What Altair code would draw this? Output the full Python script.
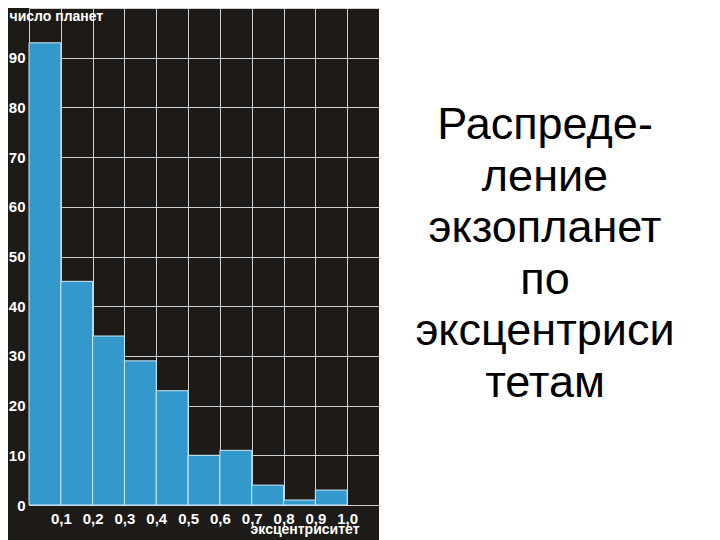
import altair as alt
import pandas as pd

# ---- data ----
bin_start = [0.0, 0.1, 0.2, 0.3, 0.4, 0.5, 0.6, 0.7, 0.8, 0.9]
bin_end = [0.1, 0.2, 0.3, 0.4, 0.5, 0.6, 0.7, 0.8, 0.9, 1.0]
planet_counts = [93, 45, 34, 29, 23, 10, 11, 4, 1, 3]
x_ticks = [0.0, 0.1, 0.2, 0.3, 0.4, 0.5, 0.6, 0.7, 0.8, 0.9, 1.0]
y_ticks = [0, 10, 20, 30, 40, 50, 60, 70, 80, 90, 100]
title_lines = ["Распреде-", "ление", "экзопланет", "по", "эксцентриси", "тетам"]

BG = "#1e1a18"
BLUE = "#3399cc"
GRID = "#cfcfcf"
FONT = "Liberation Sans"

bars_df = pd.DataFrame({"start": bin_start, "end": bin_end, "count": planet_counts})
text_df = pd.DataFrame({"line": title_lines, "col": ["c"] * len(title_lines)})

bars = (
    alt.Chart(bars_df)
    .mark_bar(color=BLUE, stroke="#cde8f6", strokeWidth=1)
    .encode(
        x=alt.X(
            "start:Q",
            scale=alt.Scale(domain=[0, 1.1], nice=False, zero=False),
            axis=alt.Axis(
                values=x_ticks,
                labelExpr="datum.value == 0 ? '' : replace(format(datum.value, '.1f'), '.', ',')",
                labelFont=FONT,
                labelFontSize=15,
                labelFontWeight="bold",
                labelColor="white",
                labelPadding=6,
                labelOverlap=False,
                labelFlush=False,
                ticks=False,
                domain=False,
                grid=True,
                gridColor=GRID,
                gridWidth=1,
                gridOpacity=1,
                title="эксцентриситет",
                titleFont=FONT,
                titleFontSize=14,
                titleFontWeight="bold",
                titleColor="white",
                titleAlign="right",
                titleBaseline="alphabetic",
                titleX=330,
                titleY=28,
            ),
        ),
        x2="end:Q",
        y=alt.Y(
            "count:Q",
            scale=alt.Scale(domain=[0, 100], nice=False),
            axis=alt.Axis(
                values=y_ticks,
                labelExpr="datum.value == 100 ? '' : datum.label",
                labelFont=FONT,
                labelFontSize={"condition": {"test": "datum.value == 100", "value": 0}, "value": 15},
                labelFontWeight="bold",
                labelColor="white",
                labelPadding=4,
                labelOverlap=False,
                labelFlush=False,
                ticks=False,
                domain=False,
                grid=True,
                gridColor=GRID,
                gridWidth=1,
                gridOpacity=1,
                title="число планет",
                titleFont=FONT,
                titleFontSize=14,
                titleFontWeight="bold",
                titleColor="white",
                titleAngle=0,
                titleAlign="left",
                titleBaseline="alphabetic",
                titleX=-20,
                titleY=12,
            ),
        ),
        y2=alt.datum(0),
    )
    .properties(width=350, height=497, view=alt.ViewBackground(fill=BG, strokeWidth=0))
)

text = (
    alt.Chart(text_df)
    .mark_text(font=FONT, fontSize=45, color="black", align="center", baseline="middle")
    .encode(
        x=alt.X("col:N", axis=None, scale=alt.Scale(type="point", padding=0.5)),
        y=alt.Y(
            "line:N",
            axis=None,
            sort=title_lines,
            scale=alt.Scale(type="point", range=[117, 375], padding=0),
        ),
        text="line:N",
    )
    .properties(width=332, height=532, view=alt.ViewBackground(fill="white", strokeWidth=0))
)

chart = (
    alt.hconcat(bars, text, spacing=0)
    .properties(background=BG, padding=0)
)

chart.save("out.html", embed_options={"renderer": "svg", "actions": False})
